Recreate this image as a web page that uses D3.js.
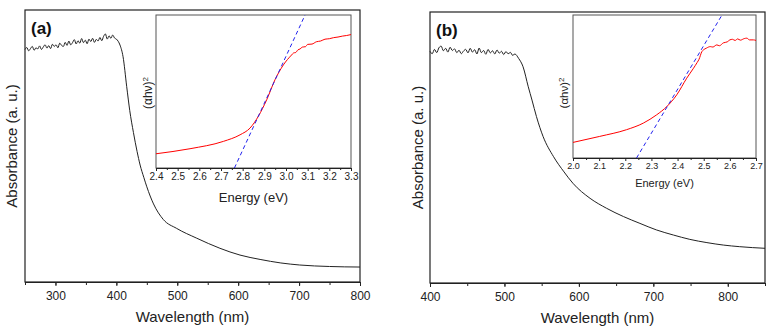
<!DOCTYPE html>
<html>
<head>
<meta charset="utf-8">
<script src="https://cdn.jsdelivr.net/npm/d3@7"></script>
<style>
  body { margin: 0; background: #fff; }
  svg { font-family: "Liberation Sans", Arial, sans-serif; }
  .axis path, .axis line { stroke: #222; }
  .axis text { fill: #222; }
</style>
</head>
<body>
<div id="chart"></div>
<script>
// ---- panel (a): absorbance spectrum
var waveA = [250,253,256,259,262,265,268,271,274,277,280,283,286,289,292,295,298,301,304,307,310,313,316,319,322,325,328,331,334,337,340,343,346,349,352,355,358,361,364,367,370,373,376,379,382,385,388,391,394,397,400,
  403,406,411,417,422,428,434,439,445,450,461,477,499,532,570,603,636,670,701,750,800];
var absA = [0.855,0.862,0.850,0.858,0.866,0.852,0.861,0.857,0.868,0.855,0.864,0.872,0.860,0.869,0.858,0.874,0.866,0.872,0.861,0.878,0.870,0.866,0.881,0.870,0.886,0.872,0.880,0.891,0.875,0.887,0.878,0.895,0.880,0.889,0.876,0.893,0.884,0.896,0.881,0.892,0.886,0.899,0.887,0.903,0.912,0.893,0.905,0.896,0.908,0.897,0.893,
  0.885,0.871,0.828,0.718,0.630,0.550,0.480,0.430,0.385,0.350,0.287,0.230,0.197,0.161,0.124,0.099,0.083,0.070,0.0625,0.057,0.055];
var ticksA = [300,400,500,600,700,800];

// inset (a): Tauc plot
var energyA = [2.40,2.557,2.711,2.788,2.834,2.872,2.911,2.949,2.988,3.026,3.035,3.045,3.055,3.065,3.075,3.09,3.10,3.12,3.14,3.16,3.18,3.20,3.22,3.24,3.26,3.28,3.30];
var taucA = [0.093,0.126,0.174,0.217,0.261,0.337,0.446,0.576,0.674,0.739,0.752,0.755,0.772,0.778,0.790,0.793,0.808,0.810,0.825,0.830,0.842,0.845,0.852,0.856,0.862,0.866,0.872];
var fitA = [[2.762,0],[3.088,1]];
var eTicksA = [2.4,2.5,2.6,2.7,2.8,2.9,3.0,3.1,3.2,3.3];

// ---- panel (b)
var waveB = [400,403,406,409,412,415,418,421,424,427,430,433,436,439,442,445,448,451,454,457,460,463,466,469,472,475,478,481,484,487,490,493,496,499,502,505,508,511,514,
  519,525,532,537,543,552,566,580,592,615,637,660,682,704,727,749,772,794,816,850];
var absB = [0.855,0.846,0.862,0.850,0.868,0.874,0.857,0.866,0.852,0.870,0.858,0.864,0.850,0.859,0.846,0.856,0.862,0.849,0.866,0.852,0.861,0.845,0.867,0.850,0.858,0.844,0.862,0.849,0.857,0.845,0.860,0.848,0.855,0.843,0.854,0.846,0.851,0.840,0.845,
  0.829,0.798,0.724,0.675,0.614,0.540,0.466,0.410,0.368,0.3125,0.276,0.245,0.220,0.196,0.177,0.161,0.149,0.140,0.134,0.128];
var ticksB = [400,500,600,700,800];

var energyB = [2.00,2.102,2.205,2.269,2.32,2.359,2.397,2.435,2.461,2.475,2.482,2.493,2.499,2.51,2.525,2.535,2.55,2.56,2.575,2.59,2.60,2.61,2.62,2.63,2.64,2.655,2.665,2.675,2.69,2.70];
var taucB = [0.109,0.151,0.198,0.244,0.302,0.360,0.442,0.558,0.628,0.668,0.690,0.744,0.756,0.768,0.779,0.776,0.791,0.785,0.805,0.812,0.826,0.830,0.822,0.833,0.824,0.835,0.838,0.826,0.826,0.822];
var fitB = [[2.243,0],[2.570,1]];
var eTicksB = [2.0,2.1,2.2,2.3,2.4,2.5,2.6,2.7];

var svg = d3.select("#chart").append("svg")
    .attr("width", 773)
    .attr("height", 331);

function drawPanel(p) {
    var x = d3.scaleLinear().domain(p.xDomain).range([p.left, p.right]);
    var y = d3.scaleLinear().domain([0, 1]).range([p.bottom, p.top]);

    var g = svg.append("g");

    // minor ticks (every 50 nm)
    var minor = d3.range(p.xDomain[0], p.xDomain[1] + 1, 50);
    g.append("g")
        .attr("class", "axis")
        .attr("transform", "translate(0," + p.bottom + ")")
        .call(d3.axisBottom(x).tickValues(minor).tickSize(3).tickFormat(""))
        .select(".domain").remove();

    g.append("g")
        .attr("class", "axis")
        .attr("transform", "translate(0," + p.bottom + ")")
        .call(d3.axisBottom(x).tickValues(p.ticks).tickSize(4).tickPadding(5).tickSizeOuter(0))
        .selectAll("text").style("font-size", "12px");

    // frame
    g.append("rect")
        .attr("x", p.left).attr("y", p.top)
        .attr("width", p.right - p.left).attr("height", p.bottom - p.top)
        .attr("fill", "none").attr("stroke", "#222").attr("stroke-width", 1.2);

    var line = d3.line()
        .x(function(d) { return x(d[0]); })
        .y(function(d) { return y(d[1]); })
        .curve(d3.curveMonotoneX);

    g.append("path")
        .datum(p.wave.map(function(w, i) { return [w, p.abs[i]]; }))
        .attr("fill", "none")
        .attr("stroke", "#222")
        .attr("stroke-width", 1)
        .attr("d", line);

    g.append("text")
        .attr("x", (p.left + p.right) / 2)
        .attr("y", p.bottom + 40)
        .attr("text-anchor", "middle")
        .style("font-size", "15px")
        .attr("fill", "#222")
        .text("Wavelength (nm)");

    g.append("text")
        .attr("text-anchor", "middle")
        .attr("transform", "translate(" + p.yLabelX + "," + ((p.top + p.bottom) / 2) + ")rotate(-90)")
        .style("font-size", "15px")
        .attr("fill", "#222")
        .text("Absorbance (a. u.)");

    g.append("text")
        .attr("x", p.left + 6)
        .attr("y", p.top + 24)
        .style("font-size", "17px")
        .style("font-weight", "bold")
        .attr("fill", "#111")
        .text(p.label);

    drawInset(p.inset);
}

function drawInset(q) {
    var x = d3.scaleLinear().domain(q.xDomain).range([q.left, q.right]);
    var y = d3.scaleLinear().domain([0, 1]).range([q.bottom, q.top]);

    var g = svg.append("g");

    g.append("rect")
        .attr("x", q.left).attr("y", q.top)
        .attr("width", q.right - q.left).attr("height", q.bottom - q.top)
        .attr("fill", "#fff").attr("stroke", "#555").attr("stroke-width", 1);

    var minor = q.ticks.slice(0, -1).map(function(t) { return t + 0.05; });
    g.append("g")
        .attr("class", "axis")
        .attr("transform", "translate(0," + q.bottom + ")")
        .call(d3.axisBottom(x).tickValues(minor).tickSize(2).tickFormat(""))
        .select(".domain").remove();
    g.append("g")
        .attr("class", "axis")
        .attr("transform", "translate(0," + q.bottom + ")")
        .call(d3.axisBottom(x).tickValues(q.ticks).tickSize(3).tickPadding(2).tickSizeOuter(0).tickFormat(d3.format(".1f")))
        .call(function(a) { a.select(".domain").attr("stroke", "#555"); })
        .selectAll("text").style("font-size", q.tickFont);

    // clip the fit line to the inset box
    var clipId = "clip" + q.left;
    g.append("clipPath").attr("id", clipId)
        .append("rect")
        .attr("x", q.left).attr("y", q.top)
        .attr("width", q.right - q.left).attr("height", q.bottom - q.top);

    var line = d3.line()
        .x(function(d) { return x(d[0]); })
        .y(function(d) { return y(d[1]); });

    g.append("path")
        .datum(q.energy.map(function(e, i) { return [e, q.tauc[i]]; }))
        .attr("clip-path", "url(#" + clipId + ")")
        .attr("fill", "none")
        .attr("stroke", "#f00")
        .attr("stroke-width", 1)
        .attr("d", line.curve(d3.curveMonotoneX));

    g.append("path")
        .datum(q.fit)
        .attr("clip-path", "url(#" + clipId + ")")
        .attr("fill", "none")
        .attr("stroke", "#2222ee")
        .attr("stroke-width", 1)
        .attr("stroke-dasharray", "4,3")
        .attr("d", line.curve(d3.curveLinear));

    g.append("text")
        .attr("x", (q.left + q.right) / 2)
        .attr("y", q.bottom + q.labelOffset)
        .attr("text-anchor", "middle")
        .style("font-size", q.labelFont)
        .attr("fill", "#222")
        .text("Energy (eV)");

    var yl = g.append("text")
        .attr("text-anchor", "middle")
        .attr("transform", "translate(" + q.yLabelX + "," + q.yLabelY + ")rotate(-90)")
        .style("font-size", q.yFont)
        .attr("fill", "#222");
    yl.append("tspan").text("(\u03b1h\u03bd)");
    yl.append("tspan").attr("baseline-shift", "super").style("font-size", "8px").text("2");
}

drawPanel({
    label: "(a)", xDomain: [250, 800], ticks: ticksA, wave: waveA, abs: absA,
    left: 25, right: 360, top: 10, bottom: 282, yLabelX: 17,
    inset: { xDomain: [2.4, 3.3], ticks: eTicksA, energy: energyA, tauc: taucA, fit: fitA,
             left: 156, right: 351, top: 15, bottom: 168, tickFont: "10px", labelFont: "13px",
             labelOffset: 34, yLabelX: 152, yLabelY: 93, yFont: "12px" }
});

drawPanel({
    label: "(b)", xDomain: [400, 850], ticks: ticksB, wave: waveB, abs: absB,
    left: 430, right: 765, top: 12, bottom: 283, yLabelX: 423,
    inset: { xDomain: [2.0, 2.7], ticks: eTicksB, energy: energyB, tauc: taucB, fit: fitB,
             left: 573, right: 756, top: 15, bottom: 158, tickFont: "9px", labelFont: "11px",
             labelOffset: 29, yLabelX: 568, yLabelY: 93, yFont: "11.5px" }
});
</script>
</body>
</html>
